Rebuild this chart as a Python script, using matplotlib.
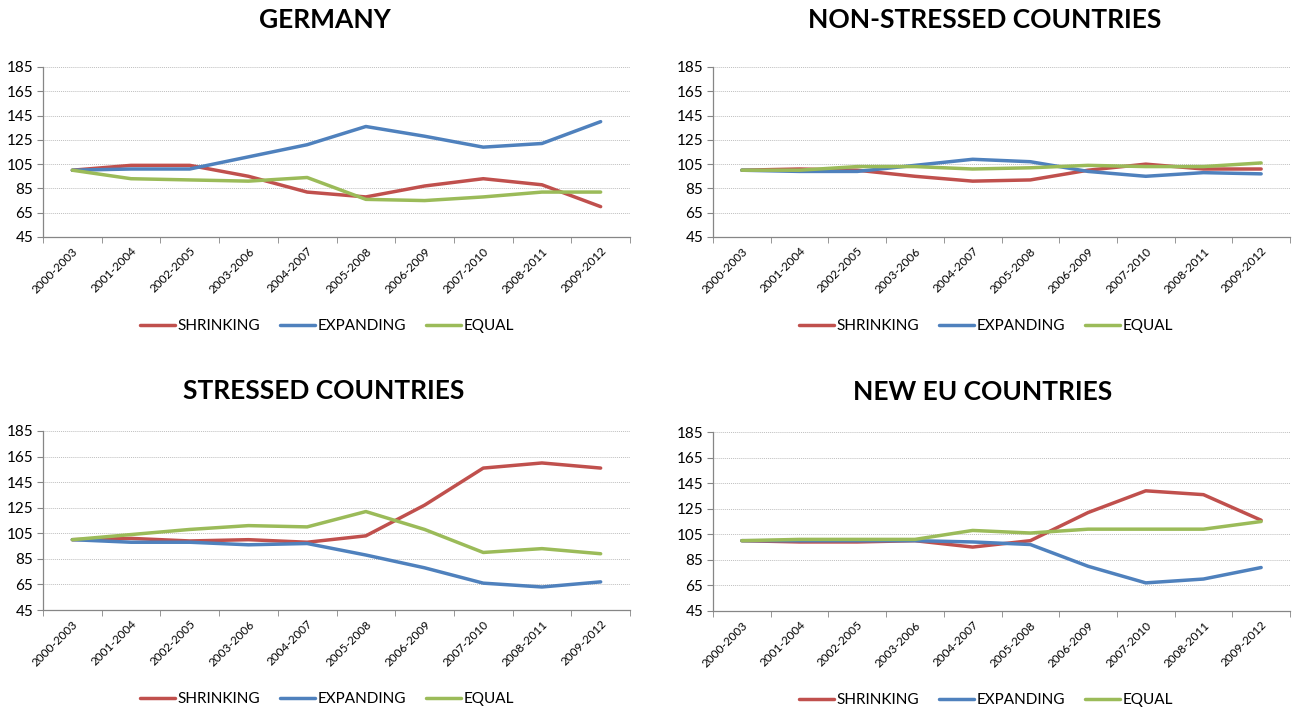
import numpy as np
import matplotlib
matplotlib.use("Agg")
import matplotlib.pyplot as plt
from matplotlib.ticker import FixedLocator

plt.rcParams['font.family'] = ['Lato', 'DejaVu Sans']

periods = ["2000-2003", "2001-2004", "2002-2005", "2003-2006", "2004-2007",
           "2005-2008", "2006-2009", "2007-2010", "2008-2011", "2009-2012"]

germany_shrinking = [100, 104, 104, 95, 82, 78, 87, 93, 88, 70]
germany_expanding = [100, 101, 101, 111, 121, 136, 128, 119, 122, 140]
germany_equal = [100, 93, 92, 91, 94, 76, 75, 78, 82, 82]

nonstressed_shrinking = [100, 101, 100, 95, 91, 92, 100, 105, 101, 101]
nonstressed_expanding = [100, 99, 99, 104, 109, 107, 99, 95, 98, 97]
nonstressed_equal = [100, 100, 103, 103, 101, 102, 104, 103, 103, 106]

stressed_shrinking = [100, 101, 99, 100, 98, 103, 127, 156, 160, 156]
stressed_expanding = [100, 98, 98, 96, 97, 88, 78, 66, 63, 67]
stressed_equal = [100, 104, 108, 111, 110, 122, 108, 90, 93, 89]

neweu_shrinking = [100, 99, 99, 100, 95, 100, 122, 139, 136, 116]
neweu_expanding = [100, 100, 100, 100, 99, 97, 80, 67, 70, 79]
neweu_equal = [100, 101, 101, 101, 108, 106, 109, 109, 109, 115]

y_ticks = [45, 65, 85, 105, 125, 145, 165, 185]
series_names = ["SHRINKING", "EXPANDING", "EQUAL"]
colors = ["#C0504D", "#4F81BD", "#9BBB59"]

W, H = 1293, 710
fig = plt.figure(figsize=(W / 100, H / 100), dpi=100)

def px_axes(x0, y0, x1, y1):
    return fig.add_axes([x0 / W, 1 - y1 / H, (x1 - x0) / W, (y1 - y0) / H])

panels = [
    ("GERMANY", (43, 67, 630, 237), (325, 20), (327, 326),
     [germany_shrinking, germany_expanding, germany_equal]),
    ("NON-STRESSED COUNTRIES", (713, 67, 1290, 237), (985, 20), (986, 326),
     [nonstressed_shrinking, nonstressed_expanding, nonstressed_equal]),
    ("STRESSED COUNTRIES", (43, 431, 630, 610), (324, 391), (327, 699),
     [stressed_shrinking, stressed_expanding, stressed_equal]),
    ("NEW EU COUNTRIES", (713, 432, 1290, 611), (983, 392), (986, 700),
     [neweu_shrinking, neweu_expanding, neweu_equal]),
]

x = np.arange(len(periods))
for title, box, tpos, lpos, data in panels:
    ax = px_axes(*box)
    handles = []
    for vals, name, c in zip(data, series_names, colors):
        h, = ax.plot(x, vals, color=c, lw=2.5, label=name, solid_capstyle="round")
        handles.append(h)
    ax.set_xlim(-0.5, len(periods) - 0.5)
    ax.set_ylim(y_ticks[0], y_ticks[-1])
    ax.yaxis.set_major_locator(FixedLocator(y_ticks))
    ax.grid(axis="y", color="#BFBFBF", linestyle=(0, (1, 1)), lw=0.7)
    ax.set_axisbelow(True)
    for s in ["top", "right"]:
        ax.spines[s].set_visible(False)
    for s in ["left", "bottom"]:
        ax.spines[s].set_color("#868686")
        ax.spines[s].set_linewidth(0.9)
    ax.set_xticks(x)
    ax.set_xticklabels(periods, rotation=45, ha="right", rotation_mode="anchor",
                       fontsize=8.5)
    ax.tick_params(axis="x", which="major", length=0, pad=6)
    ax.xaxis.set_minor_locator(FixedLocator(np.arange(-0.5, len(periods), 1.0)))
    ax.tick_params(axis="x", which="minor", length=4, color="#868686")
    ax.tick_params(axis="y", length=4, color="#868686", labelsize=11, pad=3)

    fig.text(tpos[0] / W, 1 - tpos[1] / H, title, ha="center", va="center",
             fontsize=19, fontweight="bold")
    fig.legend(handles=handles, loc="center",
               bbox_to_anchor=(lpos[0] / W, 1 - lpos[1] / H),
               ncol=3, frameon=False, fontsize=11, handlelength=2.3,
               columnspacing=1.3, handletextpad=0.15)

fig.savefig("out.png", dpi=100)
